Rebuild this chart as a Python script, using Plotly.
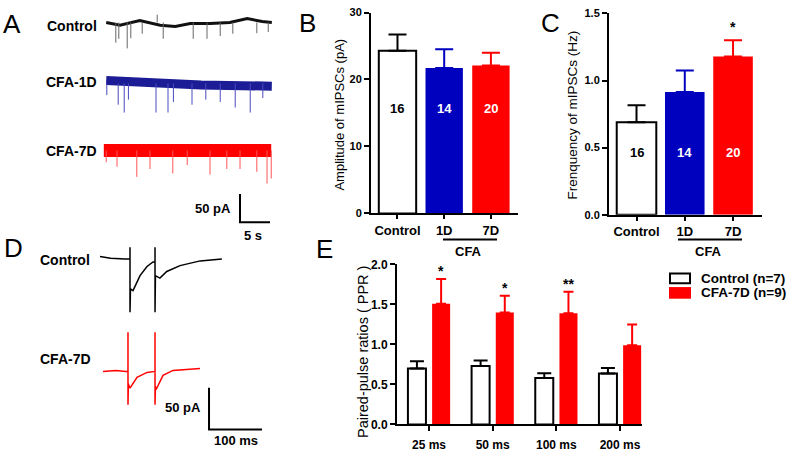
import plotly.graph_objects as go

# ------------------------------------------------------------------ data
# Panel A: spontaneous mIPSC recordings (time in s, current in pA)
a_ctrl_base_t = [0.2, 2.5, 5.8, 9.2, 11.7, 14.2, 17.5, 20.8, 23.7, 26.2, 27.8]
a_ctrl_base_pA = [0, -5, 3.4, -5, -7, -1.7, -1.7, 0, 6.9, 1.7, 0]
a_ctrl_evt_t = [1.8, 2.3, 3.7, 4.3, 6.2, 8.7, 9.7, 14.7, 17.0, 19.2, 21.3, 25.3, 27.2]
a_ctrl_evt_pA = [-36, -29, -46, -28, -20, 14, -29, -29, -29, -24, -20, -19, -17]

a_1d_base_t = [0.2, 8.0, 16.0, 27.8]
a_1d_base_pA = [5, 0, -3, -5]
a_1d_evt_t = [0.3, 2.2, 3.2, 3.9, 8.5, 10.5, 11.4, 14.5, 16.8, 19.2, 21.7, 24.2, 26.3]
a_1d_evt_pA = [-21, -38, -52, -29, -52, -52, -33, -38, -29, -33, -43, -52, -26]

a_7d_base_t = [-0.2, 27.7]
a_7d_base_pA = [0, 0]
a_7d_evt_t = [0.2, 2.0, 5.3, 7.5, 11.3, 13.7, 17.5, 20.3, 22.5, 25.3, 27.0, 27.7]
a_7d_evt_pA = [-21, -29, -47, -33, -41, -26, -43, -33, -33, -38, -59, -50]

# Panel B / C
groups_bc = ["Control", "1D", "7D"]
amp_mean = [24.3, 21.7, 22.1]
amp_sem = [2.4, 2.8, 1.9]
freq_mean = [0.69, 0.915, 1.18]
freq_sem = [0.125, 0.16, 0.12]
n_cells = ["16", "14", "20"]

# Panel D: evoked paired-pulse IPSCs (time in ms, current in pA)
d_ctrl_t = [0, 20, 47, 56.6, 56.6, 56.6, 57.5, 62.3, 75.5, 88.7, 100, 103.8, 103.8, 103.8,
            104.6, 113, 126, 151, 189, 230]
d_ctrl_pA = [3, 1, 0, 0, 14, -64, -36, -38, -20, -9, -3.5, -3.5, 14, -64,
             -20, -23, -15, -8, -2.3, 0]
d_cfa_t = [5.7, 30, 49, 52.8, 52.8, 52.8, 53.5, 56.6, 69.8, 88.7, 101.9, 103.8, 103.8, 103.8,
           104.5, 105.7, 118.9, 137.7, 188.7]
d_cfa_pA = [0, 1, 0, 0, 47, -40, -15, -20, -7, -1.2, 0, 0, 47, -40,
            -18, -22, -4.7, 1.2, 3.5]

# Panel E: paired-pulse ratios
intervals = ["25 ms", "50 ms", "100 ms", "200 ms"]
ppr_ctrl = [0.70, 0.73, 0.58, 0.635]
ppr_ctrl_sem = [0.09, 0.07, 0.06, 0.07]
ppr_cfa = [1.51, 1.40, 1.39, 0.99]
ppr_cfa_sem = [0.31, 0.21, 0.27, 0.26]
ppr_stars = ["*", "*", "**", ""]
legend_names = ["Control (n=7)", "CFA-7D (n=9)"]

# ------------------------------------------------------------------ style
W, H = 787, 453
FONT = "Arial, 'Liberation Sans', sans-serif"
BLUE = "#0000bf"
NAVY = "#1c1c96"
RED = "#ff0000"


def fx(p):
    return p / W


def fy(p):
    return 1 - p / H


fig = go.Figure()

# ------------------------------------------------------------------ panel A
A_OFF = [386.2, 278.0, 158.6]  # vertical stacking offsets of the three sweeps (pA)


def add_sweep(bt, bp, et, ep, off, color, core, spike_color):
    yy = [v + off for v in bp]
    fig.add_trace(go.Scatter(x=bt, y=yy, mode="lines", line=dict(color=color, width=core),
                             xaxis="x", yaxis="y", hoverinfo="skip"))
    sx, sy = [], []
    for t, a in zip(et, ep):
        sx += [t, t, None]
        sy += [off, off + a, None]
    fig.add_trace(go.Scatter(x=sx, y=sy, mode="lines", line=dict(color=spike_color, width=1),
                             xaxis="x", yaxis="y", hoverinfo="skip"))


add_sweep(a_ctrl_base_t, a_ctrl_base_pA, a_ctrl_evt_t, a_ctrl_evt_pA, A_OFF[0], "#111111", 3, "#666666")
add_sweep(a_1d_base_t, a_1d_base_pA, a_1d_evt_t, a_1d_evt_pA, A_OFF[1], NAVY, 9, "#4a4ac0")
add_sweep(a_7d_base_t, a_7d_base_pA, a_7d_evt_t, a_7d_evt_pA, A_OFF[2], RED, 13, "#ff5555")
# scale bar A: 50 pA / 5 s
fig.add_trace(go.Scatter(x=[22.5, 22.5, 27.5], y=[81, 31, 31], mode="lines",
                         line=dict(color="black", width=2), xaxis="x", yaxis="y", hoverinfo="skip"))

# ------------------------------------------------------------------ panel D
D_OFF = [224.4, 89.5]
fig.add_trace(go.Scatter(x=d_ctrl_t, y=[v + D_OFF[0] for v in d_ctrl_pA], mode="lines",
                         line=dict(color="black", width=1.5), xaxis="x4", yaxis="y4", hoverinfo="skip"))
fig.add_trace(go.Scatter(x=d_cfa_t, y=[v + D_OFF[1] for v in d_cfa_pA], mode="lines",
                         line=dict(color=RED, width=1.5), xaxis="x4", yaxis="y4", hoverinfo="skip"))
fig.add_trace(go.Scatter(x=[205.7, 205.7, 305.7], y=[69.8, 19.8, 19.8], mode="lines",
                         line=dict(color="black", width=2), xaxis="x4", yaxis="y4", hoverinfo="skip"))

# ------------------------------------------------------------------ panels B, C
fills = ["white", BLUE, RED]
edges = ["black", BLUE, RED]
for i, g in enumerate(groups_bc):
    fig.add_trace(go.Bar(x=[g], y=[amp_mean[i]], width=0.8, xaxis="x2", yaxis="y2",
                         marker=dict(color=fills[i], line=dict(color=edges[i], width=2 if i == 0 else 0)),
                         error_y=dict(type="data", array=[amp_sem[i]], arrayminus=[0], symmetric=False,
                                      color=edges[i], thickness=2, width=9)))
    fig.add_trace(go.Bar(x=[g], y=[freq_mean[i]], width=0.82, xaxis="x3", yaxis="y3",
                         marker=dict(color=fills[i], line=dict(color=edges[i], width=2 if i == 0 else 0)),
                         error_y=dict(type="data", array=[freq_sem[i]], arrayminus=[0], symmetric=False,
                                      color=edges[i], thickness=2, width=9)))

# ------------------------------------------------------------------ panel E
xi = list(range(len(intervals)))
fig.add_trace(go.Bar(x=[i - 0.19 for i in xi], y=ppr_ctrl, width=0.283, xaxis="x5", yaxis="y5",
                     name=legend_names[0],
                     marker=dict(color="white", line=dict(color="black", width=2)),
                     error_y=dict(type="data", array=ppr_ctrl_sem, arrayminus=[0] * 4, symmetric=False,
                                  color="black", thickness=2, width=7)))
fig.add_trace(go.Bar(x=[i + 0.19 for i in xi], y=ppr_cfa, width=0.283, xaxis="x5", yaxis="y5",
                     name=legend_names[1],
                     marker=dict(color=RED, line=dict(color=RED, width=0)),
                     error_y=dict(type="data", array=ppr_cfa_sem, arrayminus=[0] * 4, symmetric=False,
                                  color=RED, thickness=2, width=5)))

# ------------------------------------------------------------------ layout / axes
hidden = dict(visible=False, showgrid=False, zeroline=False)
ax_common = dict(showline=True, linewidth=2, linecolor="black", ticks="outside", ticklen=5,
                 tickwidth=2, tickcolor="black", showgrid=False, zeroline=False,
                 tickfont=dict(family=FONT, size=11, color="black", weight="bold"))
xbc = {**ax_common, "ticklen": 4, "tickfont": dict(family=FONT, size=13, color="black", weight="bold")}

fig.update_layout(
    width=W, height=H, margin=dict(l=0, r=0, t=0, b=0), autosize=False,
    paper_bgcolor="white", plot_bgcolor="white", showlegend=False, barmode="overlay",
    xaxis=dict(domain=[0, fx(290)], range=[-17.5, 30.83], anchor="y", **hidden),
    yaxis=dict(domain=[fy(240), 1], range=[0, 413.8], anchor="x", **hidden),
    xaxis4=dict(domain=[0, fx(290)], range=[-188.7, 358.5], anchor="y4", **hidden),
    yaxis4=dict(domain=[0, fy(230)], range=[0, 259.3], anchor="x4", **hidden),
    xaxis2=dict(domain=[fx(371), fx(518)], anchor="y2", type="category", categoryorder="array",
                categoryarray=groups_bc, range=[-0.567, 2.58], **xbc),
    yaxis2=dict(domain=[fy(213), fy(5.7)], anchor="x2", range=[0, 30], tickvals=[0, 10, 20, 30], **ax_common),
    xaxis3=dict(domain=[fx(609), fx(762)], anchor="y3", type="category", categoryorder="array",
                categoryarray=groups_bc, range=[-0.57, 2.6], **xbc),
    yaxis3=dict(domain=[fy(214.3), fy(6.7)], anchor="x3", range=[0, 1.5], tickvals=[0, 0.5, 1.0, 1.5],
                tickformat=".1f", **ax_common),
    xaxis5=dict(domain=[fx(397), fx(642)], anchor="y5", range=[-0.503, 3.345], tickvals=xi,
                ticktext=intervals, ticklabelstandoff=3,
                **{**ax_common, "tickfont": dict(family=FONT, size=12, color="black", weight="bold")}),
    yaxis5=dict(domain=[fy(430.7), fy(265.7)], anchor="x5", range=[0, 2.0], tickvals=[0, 0.5, 1.0, 1.5, 2.0],
                tickformat=".1f",
                **{**ax_common, "tickfont": dict(family=FONT, size=12, color="black", weight="bold")}),
)

ann = []


def note(text, x, y, size=13, bold=True, xanchor="center", xref="paper", yref="paper", color="black",
         angle=0):
    if xref == "paper":
        x = fx(x)
    if yref == "paper":
        y = fy(y)
    ann.append(dict(text=text, x=x, y=y, xref=xref, yref=yref, showarrow=False, xanchor=xanchor,
                    yanchor="middle", textangle=angle,
                    font=dict(family=FONT, size=size, color=color, weight="bold" if bold else "normal")))


# panel letters
for letter, x, y in [("A", 1, 18), ("B", 297, 17), ("C", 539, 17), ("D", 2, 249), ("E", 314, 250)]:
    note(letter, x, y, size=26, bold=False, xanchor="left")

# panel A labels
note("Control", 99, 20, size=14, xanchor="right")
note("CFA-1D", 99, 77, size=14, xanchor="right")
note("CFA-7D", 99, 149, size=14, xanchor="right")
note("50 pA", 21.3, 55, size=13, xanchor="right", xref="x", yref="y")
note("5 s", 24.6, 7, size=13, xref="x", yref="y")

# panel D labels
note("Control", 38, 261, size=14, xanchor="left")
note("CFA-7D", 38, 363, size=14, xanchor="left")
note("50 pA", 194, 46.5, size=13, xanchor="right", xref="x4", yref="y4")
note("100 ms", 256, 7, size=13, xref="x4", yref="y4")

# axis titles
note("Amplitude of mIPSCs (pA)", 340, 111, size=13, bold=False, angle=-90)
note("Frenquency of mIPSCs (Hz)", 573, 112, size=13.5, bold=False, angle=-90)
note("Paired-pulse ratios ( PPR )", 363, 356, size=14.5, bold=False, angle=-90)

# n inside bars
for i, g in enumerate(groups_bc):
    c = "black" if i == 0 else "white"
    note(n_cells[i], g, 15.6, size=13, xref="x2", yref="y2", color=c)
    note(n_cells[i], g, 0.465, size=13, xref="x3", yref="y3", color=c)

# CFA grouping
shapes = []
for x0, x1, cx in [(443, 497, 468), (678, 742, 708)]:
    shapes.append(dict(type="line", xref="paper", yref="paper", x0=fx(x0), x1=fx(x1), y0=fy(240), y1=fy(240),
                       line=dict(color="black", width=2)))
    note("CFA", cx, 252, size=13)

# significance
note("*", "7D", 1.40, size=14, xref="x3", yref="y3")
for i, s in enumerate(ppr_stars):
    if s:
        ystar = ppr_cfa[i] + ppr_cfa_sem[i] + 0.1
        note(s, i + 0.19, ystar, size=14, xref="x5", yref="y5")

# custom legend for E
shapes.append(dict(type="rect", xref="paper", yref="paper", x0=fx(670), x1=fx(690), y0=fy(285), y1=fy(275),
                   line=dict(color="black", width=2), fillcolor="white"))
shapes.append(dict(type="rect", xref="paper", yref="paper", x0=fx(669), x1=fx(691), y0=fy(301), y1=fy(289),
                   line=dict(width=0), fillcolor=RED))
note(legend_names[0], 699, 280, size=13.5, xanchor="left")
note(legend_names[1], 699, 295, size=13.5, xanchor="left")

fig.update_layout(annotations=ann, shapes=shapes)

fig.write_html("out.html", config={"displayModeBar": False},
               post_script="document.body.style.margin='0';document.body.style.overflow='hidden';")
